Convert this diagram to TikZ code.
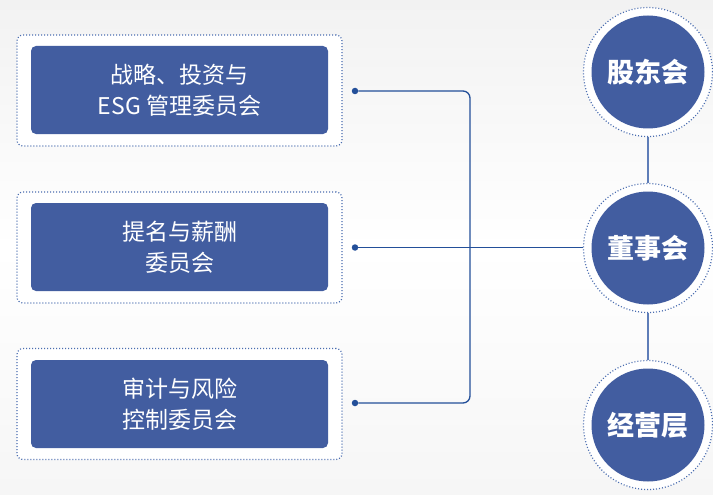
\documentclass[tikz,border=0pt]{standalone}
\usepackage{fontspec}
\setmainfont{Noto Sans CJK SC}
\definecolor{boxc}{HTML}{425DA0}
\definecolor{dotc}{HTML}{4A6DB0}
\definecolor{linec}{HTML}{234F99}
\definecolor{link2c}{HTML}{5E7DB8}
\definecolor{bgc}{HTML}{F2F2F2}
\tikzset{
  outerbox/.style={draw=dotc, dash pattern=on 1pt off 2pt, line width=1.2pt, rounded corners=6pt, fill=white, minimum width=325pt, minimum height=111pt, inner sep=0pt},
  innerbox/.style={fill=boxc, rounded corners=5pt, minimum width=297pt, minimum height=88pt, text=white, font=\fontsize{23}{31}\selectfont, align=center, inner sep=0pt},
  ring/.style={circle, draw=dotc, dash pattern=on 1pt off 2pt, line width=1.2pt, fill=white, minimum size=129pt, inner sep=0pt},
  disc/.style={circle, fill=boxc, minimum size=113pt, inner sep=0pt, text=white, font=\bfseries\fontsize{27}{30}\selectfont},
  link/.style={draw=linec, line width=1.3pt},
  link2/.style={draw=link2c, line width=1.6pt},
  dotpt/.style={circle, fill=linec, minimum size=6.5pt, inner sep=0pt}
}
\begin{document}
\begin{tikzpicture}[x=1pt,y=-1pt]
\shade[top color=bgc, bottom color=bgc!70!white, middle color=white] (0,0) rectangle (713,495);
\useasboundingbox (0,0) rectangle (713,495);
% left boxes
\node[outerbox] (o1) at (179.5,90.5) {};
\node[innerbox] (b1) at (179.5,90) {战略、投资与\\ESG 管理委员会};
\node[outerbox] (o2) at (179.5,247.5) {};
\node[innerbox] (b2) at (179.5,247) {提名与薪酬\\委员会};
\node[outerbox] (o3) at (179.5,404) {};
\node[innerbox] (b3) at (179.5,404) {审计与风险\\控制委员会};
% circles
\node[ring] (r1) at (648,72) {};
\node[disc] (c1) at (648,72) {股东会};
\node[ring] (r2) at (648,248) {};
\node[disc] (c2) at (648,248) {董事会};
\node[ring] (r3) at (648,425) {};
\node[disc] (c3) at (648,425) {经营层};
% dots
\node[dotpt] (d1) at (355,91) {};
\node[dotpt] (d2) at (355,247.5) {};
\node[dotpt] (d3) at (355,403) {};
\coordinate (j1) at (470,91);
\coordinate (j3) at (470,403);
% connectors
\draw[link, rounded corners=7pt] (d1) -- (j1) -- (j3) -- (d3);
\draw[link] (d2) -- (r2.west |- d2);
\draw[link2] (r1) -- (r2);
\draw[link2] (r2) -- (r3);
\end{tikzpicture}
\end{document}
